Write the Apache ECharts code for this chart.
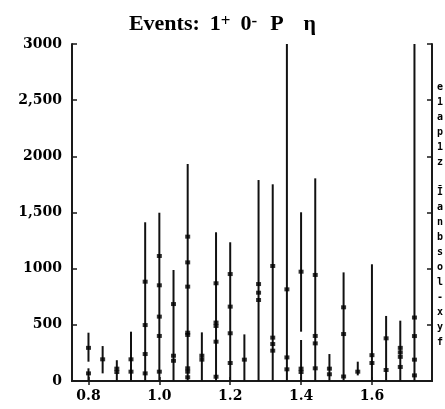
<!DOCTYPE html>
<html>
<head>
<meta charset="utf-8">
<script src="https://cdn.jsdelivr.net/npm/echarts@6/dist/echarts.min.js"></script>
<style>html,body{margin:0;padding:0;background:#fff;}#c{width:445px;height:409px;}</style>
</head>
<body>
<div id="c"></div>
<script>
// ---- data ----
var massBins = [0.80,0.84,0.88,0.92,0.96,1.00,1.04,1.08,1.12,1.16,1.20,1.24,1.28,1.32,1.36,1.40,1.44,1.48,1.52,1.56,1.60,1.64,1.68,1.72];
var barLow  = [172, 68,   0,   0,    0,    0,   0,    0,   0,    0,    0,   0,    0,    0,    0, 439,    0,   0,   0,  50,    0,   0,   0,    0];
var barHigh = [430, 311, 185, 439, 1413, 1498, 988, 1932, 433, 1324, 1235, 415, 1789, 1751, 3400, 1502, 1804, 240, 967, 172, 1039, 579, 537, 3400];
var extraBarBins = [0.80, 1.40];
var extraBarLow  = [0, 0];
var extraBarHigh = [113, 365];
var pointValues = [
  [295, 68],
  [193],
  [110, 80],
  [193, 83],
  [884, 498, 240, 68],
  [1113, 852, 573, 401, 83],
  [685, 225, 180],
  [1285, 1056, 840, 430, 410, 113, 83, 33],
  [225, 190],
  [870, 520, 490, 350, 38],
  [952, 662, 425, 160],
  [190],
  [863, 786, 721],
  [1024, 386, 329, 270],
  [816, 210, 104],
  [973, 110, 80],
  [944, 401, 335, 113],
  [110, 60],
  [656, 418, 40],
  [83],
  [230, 160],
  [380, 98],
  [295, 255, 215, 125],
  [565, 400, 190, 50]
];
var xTicks = [0.8, 1.0, 1.2, 1.4, 1.6];
var yTickValues = [0, 500, 1000, 1500, 2000, 2500, 3000];
var yTickLabels = ['0', '500', '1000', '1,500', '2000', '2,500', '3000'];
var rightNotes = ['e','1','a','p','1','z','','Ī','a','n','b','s','o','l','-','x','y','f'];

// ---- build ----
var barData = massBins.map(function (m, i) { return [m, barLow[i], barHigh[i]]; });
extraBarBins.forEach(function (m, i) { barData.push([m, extraBarLow[i], extraBarHigh[i]]); });
var pointData = [];
massBins.forEach(function (m, i) { pointValues[i].forEach(function (v) { pointData.push([m, v]); }); });

var frameLine = { show: true, lineStyle: { color: '#1a1a1a', width: 2 } };
var tickStyle = { color: '#1a1a1a', width: 1.5 };
var serifBold = { fontFamily: 'DejaVu Serif', fontWeight: 'bold', fontSize: 14, color: '#000' };

var chart = echarts.init(document.getElementById('c'), null, { renderer: 'canvas' });
chart.setOption({
  animation: false,
  backgroundColor: '#fff',
  title: {
    text: 'Events:{g1|}1{sup|+}{g1|}0{sup|-}{g2|}P{g3|}η',
    left: 'center',
    top: 8,
    textStyle: {
      fontFamily: 'Liberation Serif', fontWeight: 'bold', fontSize: 22, color: '#000',
      rich: {
        sup: { fontFamily: 'Liberation Serif', fontWeight: 'bold', fontSize: 17, verticalAlign: 'top', color: '#000' },
        g1: { width: 10 },
        g2: { width: 13 },
        g3: { width: 20 }
      }
    }
  },
  grid: { left: 72, right: 13, top: 44, bottom: 28 },
  xAxis: [
    {
      type: 'value', min: 0.7535, max: 1.7695, position: 'bottom',
      axisLine: frameLine,
      axisTick: { show: true, inside: true, length: 4, customValues: xTicks, lineStyle: tickStyle },
      axisLabel: Object.assign({ customValues: xTicks, margin: 8, formatter: function (v) { return v.toFixed(1); } }, serifBold),
      splitLine: { show: false }
    },
    {
      type: 'value', min: 0.7535, max: 1.7695, position: 'top',
      axisLine: frameLine,
      axisTick: { show: true, inside: true, length: 4, customValues: xTicks, lineStyle: tickStyle },
      axisLabel: { show: false },
      splitLine: { show: false }
    }
  ],
  yAxis: [
    {
      type: 'value', min: 0, max: 3000, interval: 500, position: 'left',
      axisLine: frameLine,
      axisTick: { show: true, inside: true, length: 5, lineStyle: tickStyle },
      axisLabel: Object.assign({ margin: 10, formatter: function (v) { return yTickLabels[yTickValues.indexOf(v)]; } }, serifBold),
      splitLine: { show: false }
    },
    {
      type: 'value', min: 0, max: 3000, interval: 500, position: 'right',
      axisLine: frameLine,
      axisTick: { show: true, inside: true, length: 5, lineStyle: tickStyle },
      axisLabel: { show: false },
      splitLine: { show: false }
    }
  ],
  graphic: [{
    type: 'text', left: 437, top: 80,
    style: { text: rightNotes.join('\n'), font: 'bold 10px "DejaVu Sans Mono"', lineHeight: 15, fill: '#000' }
  }],
  series: [
    {
      type: 'custom', xAxisIndex: 0, yAxisIndex: 0, clip: true,
      data: barData,
      encode: { x: 0, y: [1, 2] },
      renderItem: function (params, api) {
        var x = api.value(0);
        var p1 = api.coord([x, api.value(1)]);
        var p2 = api.coord([x, api.value(2)]);
        return { type: 'line', shape: { x1: p1[0], y1: p1[1], x2: p2[0], y2: p2[1] }, style: { stroke: '#111', lineWidth: 2 } };
      }
    },
    {
      type: 'scatter', xAxisIndex: 0, yAxisIndex: 0,
      data: pointData,
      symbol: 'rect', symbolSize: [5, 4],
      itemStyle: { color: '#000' }
    }
  ]
});
</script>
</body>
</html>
